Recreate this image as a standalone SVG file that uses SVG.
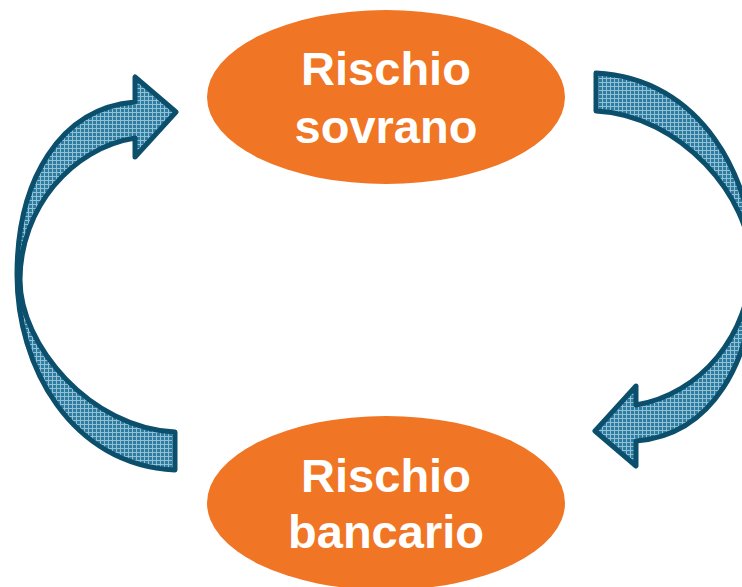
<svg xmlns="http://www.w3.org/2000/svg" width="742" height="587" viewBox="0 0 742 587">
  <style>
    .node ellipse { fill: #F07524; }
    .node text { font-family: "Liberation Sans", Arial, sans-serif; font-weight: bold; font-size: 47px; fill: #ffffff; text-anchor: middle; }
    .arrow { fill: url(#hatch); stroke: #0B4F6C; stroke-width: 5; stroke-linejoin: round; }
  </style>
  <defs>
    <pattern id="hatch" width="4" height="4" patternUnits="userSpaceOnUse">
      <rect width="4" height="4" fill="#2E7DA1"/>
      <path d="M0 0.5 H4 M0.5 0 V4" stroke="#92C1D5" stroke-width="1"/>
    </pattern>
    <path id="curvedArrow" d="M135 102 C60 108 17 180 17 275 C17 365 70 465 175 470 L175 432 C90 428 20 345 20 280 C20 208 72 148 135 138 L135 157 L176 112 L135 77 Z"/>
  </defs>
  <g id="connectors">
    <use id="arrow-left" href="#curvedArrow" class="arrow"/>
    <use id="arrow-right" href="#curvedArrow" class="arrow" transform="rotate(180 385.5 271.5)"/>
  </g>
  <g id="node-sovrano" class="node">
    <ellipse cx="386" cy="97" rx="179" ry="87"/>
    <text x="386" y="85">Rischio</text>
    <text x="386" y="143">sovrano</text>
  </g>
  <g id="node-bancario" class="node">
    <ellipse cx="386" cy="503" rx="179" ry="87"/>
    <text x="386" y="492">Rischio</text>
    <text x="386" y="548">bancario</text>
  </g>
</svg>
